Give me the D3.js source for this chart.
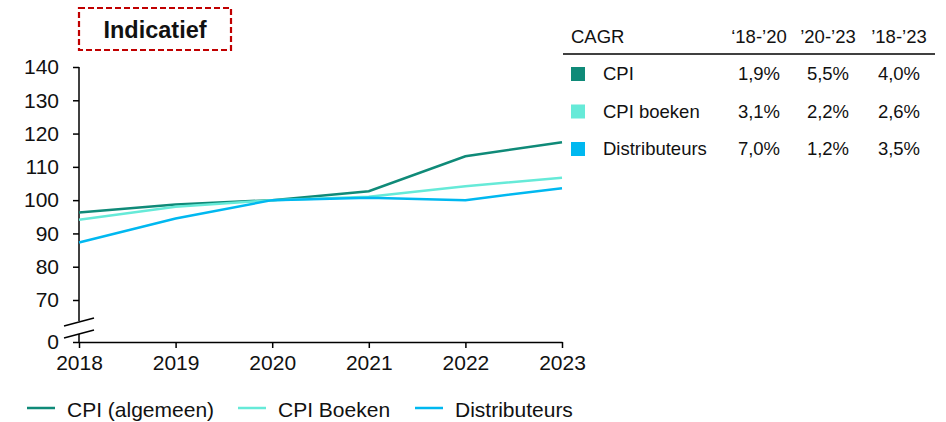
<!DOCTYPE html>
<html>
<head>
<meta charset="utf-8">
<script src="https://cdn.jsdelivr.net/npm/d3@7"></script>
<style>
  body { margin: 0; background: #fff; }
  svg { font-family: "Liberation Sans", Arial, sans-serif; }
</style>
</head>
<body>
<svg id="chart" width="946" height="422"></svg>
<script>
(function () {
    'use strict';

    // data
    var years = [2018, 2019, 2020, 2021, 2022, 2023];
    var cpi = [96.3, 98.7, 100, 102.7, 113.2, 117.4];
    var cpiBoeken = [94.1, 98.0, 100, 101.0, 104.2, 106.7];
    var distributeurs = [87.3, 94.5, 100, 100.7, 100.0, 103.6];
    var seriesNames = ['CPI (algemeen)', 'CPI Boeken', 'Distributeurs'];
    var yTicks = [0, 70, 80, 90, 100, 110, 120, 130, 140];

    var cagrHeaders = ['CAGR', '\u201818-\u201920', '\u201920-\u201923', '\u201918-\u201923'];
    var cagrRows = ['CPI', 'CPI boeken', 'Distributeurs'];
    var cagr1820 = ['1,9%', '3,1%', '7,0%'];
    var cagr2023 = ['5,5%', '2,2%', '1,2%'];
    var cagr1823 = ['4,0%', '2,6%', '3,5%'];

    var colors = ['#0f8a78', '#66ead8', '#00b8f0'];

    var svg = d3.select('#chart');

    var x = d3.scalePoint().domain(years).range([79, 562]);
    // broken axis: 0 sits just below 70
    var y = d3.scaleLinear().domain([0, 70, 140]).range([342, 300, 67]);

    // y axis
    var yAxis = svg.append('g')
        .attr('transform', 'translate(79,0)')
        .call(d3.axisLeft(y).tickValues(yTicks).tickSize(6).tickPadding(14));
    yAxis.select('.domain').remove();
    yAxis.selectAll('line').attr('stroke', '#000').attr('stroke-width', 1.5);
    yAxis.selectAll('text').attr('font-size', 21).attr('fill', '#111');

    svg.append('line')
        .attr('x1', 79).attr('x2', 79)
        .attr('y1', y(140)).attr('y2', 321)
        .attr('stroke', '#000').attr('stroke-width', 1.5);
    svg.append('line')
        .attr('x1', 79).attr('x2', 79)
        .attr('y1', 334).attr('y2', y(0))
        .attr('stroke', '#000').attr('stroke-width', 1.5);

    // break marks
    [326, 338].forEach(function (yy) {
        svg.append('line')
            .attr('x1', 64).attr('y1', yy)
            .attr('x2', 94).attr('y2', yy - 8)
            .attr('stroke', '#000').attr('stroke-width', 1.5);
    });

    // x axis
    var xAxis = svg.append('g')
        .attr('transform', 'translate(0,' + y(0) + ')')
        .call(d3.axisBottom(x).tickSize(6).tickPadding(7).tickSizeOuter(0));
    xAxis.select('.domain').attr('stroke', '#000').attr('stroke-width', 1.5);
    xAxis.selectAll('line').attr('stroke', '#000').attr('stroke-width', 1.5);
    xAxis.selectAll('text').attr('font-size', 21).attr('fill', '#111');

    // lines
    var line = d3.line()
        .x(function (d, i) { return x(years[i]); })
        .y(function (d) { return y(d); });

    [cpi, cpiBoeken, distributeurs].forEach(function (s, i) {
        svg.append('path')
            .datum(s)
            .attr('fill', 'none')
            .attr('stroke', colors[i])
            .attr('stroke-width', 2.5)
            .attr('d', line);
    });

    // Indicatief label
    svg.append('rect')
        .attr('x', 79).attr('y', 8)
        .attr('width', 152).attr('height', 42)
        .attr('fill', 'none')
        .attr('stroke', '#c00000')
        .attr('stroke-width', 2.2)
        .attr('stroke-dasharray', '6,3');
    svg.append('text')
        .attr('x', 155).attr('y', 38)
        .attr('text-anchor', 'middle')
        .attr('font-size', 23.5)
        .attr('font-weight', 'bold')
        .attr('fill', '#111')
        .text('Indicatief');

    // CAGR table
    var colX = [571, 759, 828, 899];
    var table = svg.append('g');
    cagrHeaders.forEach(function (h, i) {
        table.append('text')
            .attr('x', colX[i])
            .attr('y', 43)
            .attr('text-anchor', i === 0 ? 'start' : 'middle')
            .attr('font-size', 18.5)
            .attr('fill', '#111')
            .text(h);
    });
    table.append('line')
        .attr('x1', 563).attr('x2', 935)
        .attr('y1', 54).attr('y2', 54)
        .attr('stroke', '#000').attr('stroke-width', 1.5);

    var rowY = d3.scalePoint().domain(cagrRows).range([74, 149]);
    cagrRows.forEach(function (r, i) {
        var yy = rowY(r);
        table.append('rect')
            .attr('x', 571).attr('y', yy - 7)
            .attr('width', 14).attr('height', 14)
            .attr('fill', colors[i]);
        table.append('text')
            .attr('x', 603).attr('y', yy + 6)
            .attr('font-size', 18.5).attr('fill', '#111')
            .text(r);
        [cagr1820[i], cagr2023[i], cagr1823[i]].forEach(function (v, j) {
            table.append('text')
                .attr('x', colX[j + 1]).attr('y', yy + 6)
                .attr('text-anchor', 'middle')
                .attr('font-size', 18.5).attr('fill', '#111')
                .text(v);
        });
    });

    // bottom legend
    var legendX = [27, 238, 415];
    seriesNames.forEach(function (n, i) {
        var g = svg.append('g').attr('transform', 'translate(' + legendX[i] + ',408)');
        g.append('line')
            .attr('x1', 0).attr('x2', 28)
            .attr('stroke', colors[i]).attr('stroke-width', 2.5);
        g.append('text')
            .attr('x', 40).attr('y', 9)
            .attr('font-size', 21).attr('fill', '#111')
            .text(n);
    });
}());
</script>
</body>
</html>
